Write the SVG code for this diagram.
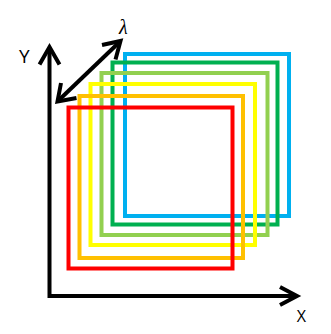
<svg xmlns="http://www.w3.org/2000/svg" width="331" height="334" viewBox="0 0 331 334">
  <style>
    .frame { fill: none; stroke-width: 4; }
    .axis { fill: none; stroke: #000; stroke-width: 4; stroke-linejoin: miter; stroke-linecap: butt; }
    .lbl { font-family: "Open Sans", "Noto Sans", sans-serif; fill: #000; text-anchor: middle; }
    .lam { font-family: "Liberation Serif", serif; font-style: italic; fill: #000; text-anchor: middle; }
  </style>
  <rect width="331" height="334" fill="#fff"/>
  <g id="frames">
    <g id="frame-blue"><rect class="frame" x="125" y="54" width="164" height="162" stroke="#00B0F0"/></g>
    <g id="frame-green"><rect class="frame" x="112.5" y="62.5" width="165" height="162" stroke="#00B050"/></g>
    <g id="frame-lightgreen"><rect class="frame" x="101.5" y="73" width="166" height="162" stroke="#92D050"/></g>
    <g id="frame-yellow"><rect class="frame" x="90.5" y="84" width="164.5" height="161" stroke="#FFFF00"/></g>
    <g id="frame-orange"><rect class="frame" x="79.5" y="96" width="163.5" height="162" stroke="#FFC000"/></g>
    <g id="frame-red"><rect class="frame" x="68.5" y="107.5" width="164" height="161" stroke="#FF0000"/></g>
  </g>
  <g id="connectors">
    <polyline class="axis" points="49.5,48 49.5,296 296,296"/>
    <polyline class="axis" points="39.5,64.5 49.5,47 59.5,64.5"/>
    <polyline class="axis" points="280,287 297,296 280,305"/>
    <line class="axis" x1="59" y1="100" x2="119" y2="42.5"/>
    <polyline class="axis" points="102,45 120.5,41 115.5,59.5"/>
    <polyline class="axis" points="61,83 57.5,101.5 76.5,98"/>
  </g>
  <g id="labels">
    <text class="lbl" x="24.3" y="62.7" font-size="19">Y</text>
    <text class="lbl" x="301.3" y="321.7" font-size="16">X</text>
    <text class="lam" x="123.3" y="34.3" font-size="20">λ</text>
  </g>
</svg>
